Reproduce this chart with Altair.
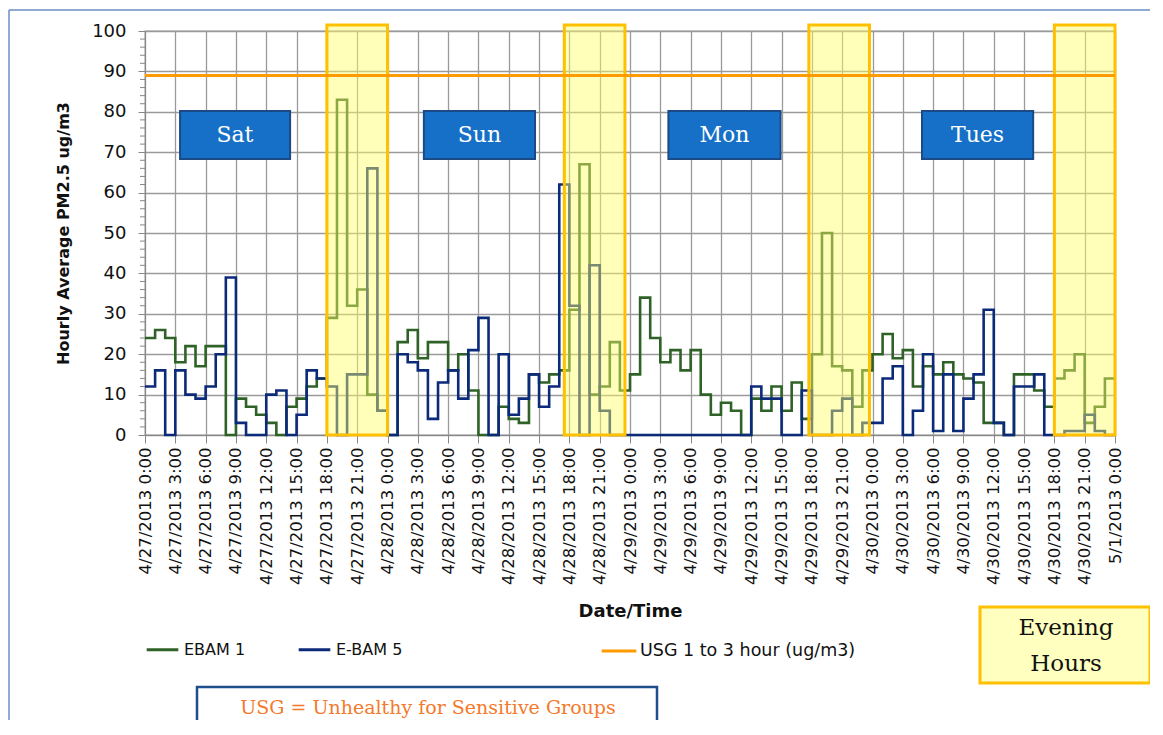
import json
import altair as alt
import pandas as pd

# ---------------- data ----------------
# hours since 4/27/2013 0:00 (hourly readings, last point = 5/1/2013 0:00)
hour_index = list(range(97))
tick_hours = list(range(0, 97, 3))
tick_labels = [f"{t.month}/{t.day}/{t.year} {t.hour}:00" for t in
               pd.date_range("2013-04-27 00:00", "2013-05-01 00:00", freq="3h")]

ebam1_apr27 = [24, 26, 24, 18, 22, 17, 22, 22, 0, 9, 7, 5, 3, 0, 7, 9, 12, 14, 29, 83, 32, 36, 10, 6]
ebam1_apr28 = [0, 23, 26, 19, 23, 23, 16, 20, 11, 0, 0, 7, 4, 3, 15, 13, 15, 16, 31, 67, 10, 12, 23, 11]
ebam1_apr29 = [15, 34, 24, 18, 21, 16, 21, 10, 5, 8, 6, 0, 9, 6, 12, 6, 13, 4, 20, 50, 17, 16, 7, 16]
ebam1_apr30 = [20, 25, 19, 21, 12, 17, 15, 18, 15, 14, 13, 3, 3, 0, 15, 15, 11, 7, 14, 16, 20, 3, 7, 14]
ebam1_may1 = [14]

ebam5_apr27 = [12, 16, 0, 16, 10, 9, 12, 20, 39, 3, 0, 0, 10, 11, 0, 5, 16, 14, 12, 0, 15, 15, 66, 6]
ebam5_apr28 = [0, 20, 18, 16, 4, 13, 16, 9, 21, 29, 0, 20, 5, 9, 15, 7, 12, 62, 32, 0, 42, 6, 0, 0]
ebam5_apr29 = [0, 0, 0, 0, 0, 0, 0, 0, 0, 0, 0, 0, 12, 9, 9, 0, 0, 11, 0, 0, 6, 9, 0, 3]
ebam5_apr30 = [3, 14, 17, 0, 6, 20, 1, 15, 1, 9, 15, 31, 3, 0, 12, 12, 15, 0, 0, 1, 1, 5, 1, 0]
ebam5_may1 = [0]

ebam1 = ebam1_apr27 + ebam1_apr28 + ebam1_apr29 + ebam1_apr30 + ebam1_may1
ebam5 = ebam5_apr27 + ebam5_apr28 + ebam5_apr29 + ebam5_apr30 + ebam5_may1

series_names = ["EBAM 1", "E-BAM 5"]
usg_name = ["USG 1 to 3 hour (ug/m3)"]
usg_level = [89]

# evening-hour highlight windows (hours since 4/27 0:00)
evening_start = [18, 41.5, 65.7, 90]
evening_end = [24, 47.5, 71.7, 96]

day_labels = ["Sat", "Sun", "Mon", "Tues"]
day_start = [3.47, 27.6, 51.8, 76.9]
day_end = [14.36, 38.6, 62.9, 87.9]
day_mid = [8.9, 33.1, 57.35, 82.4]

y_ticks = [0, 10, 20, 30, 40, 50, 60, 70, 80, 90, 100]
y_minor_ticks = [v for v in range(2, 100, 2) if v % 10]

# ---------------- tables ----------------
df = pd.DataFrame({
    "hour": hour_index * 2,
    "value": ebam1 + ebam5,
    "series": [series_names[0]] * len(hour_index) + [series_names[1]] * len(hour_index),
})
df_usg = pd.DataFrame({"usg": usg_name, "level": usg_level})
df_even = pd.DataFrame({"start": evening_start, "end": evening_end,
                        "bottom": [0] * 4, "top": [101.5] * 4})
df_days = pd.DataFrame({"label": day_labels, "start": day_start, "end": day_end,
                        "mid": day_mid, "lo": [68.3] * 4, "hi": [80.2] * 4, "c": [74.3] * 4})
df_minor = pd.DataFrame({"v": y_minor_ticks})

GREEN = "#2f6227"
NAVY = "#0b2a7a"
ORANGE = "#ff9a00"
GRID = "#9a9a9a"

x_scale = alt.Scale(domain=[0, 96], nice=False, zero=False)
y_scale = alt.Scale(domain=[0, 100], nice=False)

label_expr = json.dumps(tick_labels) + "[round(datum.value / 3)]"

x_axis = alt.Axis(
    title="Date/Time", values=tick_hours, tickCount=len(tick_hours) + 2, labelExpr=label_expr,
    labelAngle=270, labelFont="DejaVu Sans", labelFontSize=16.5, labelColor="#111",
    labelOverlap=False, labelFlush=False, labelPadding=4,
    tickSize=8, tickColor="#888", domainColor="#888",
    grid=True, gridColor=GRID, gridWidth=1.3,
    titleFont="DejaVu Sans", titleFontSize=18, titleFontWeight="bold",
    titlePadding=18, titleColor="#111",
)
y_axis = alt.Axis(
    title="Hourly Average PM2.5 ug/m3", values=y_ticks, tickCount=20,
    labelFont="DejaVu Sans", labelFontSize=18, labelColor="#111", labelPadding=12,
    tickSize=7, tickColor="#888", domainColor="#888",
    grid=True, gridColor=GRID, gridWidth=1.3,
    titleFont="DejaVu Sans", titleFontSize=16, titleFontWeight="bold",
    titlePadding=20, titleColor="#111",
)

lines = alt.Chart(df).mark_line(interpolate="step-after", strokeWidth=2.6).encode(
    x=alt.X("hour:Q", scale=x_scale, axis=x_axis),
    y=alt.Y("value:Q", scale=y_scale, axis=y_axis),
    color=alt.Color("series:N", scale=alt.Scale(domain=series_names, range=[GREEN, NAVY]),
                    legend=alt.Legend(title=None, orient="none", legendX=0, legendY=601,
                                      direction="horizontal", symbolType="stroke",
                                      symbolSize=1000, symbolStrokeWidth=3,
                                      labelFont="DejaVu Sans", labelFontSize=16,
                                      labelColor="#111", labelOffset=4, labelLimit=400,
                                      columnPadding=46, padding=0)),
)

minor = alt.Chart(df_minor).mark_rule(color="#888", strokeWidth=1).encode(
    y=alt.Y("v:Q", scale=y_scale), x=alt.value(-5), x2=alt.value(0),
)

yellow = alt.Chart(df_even).mark_rect(fill="#ffff66", fillOpacity=0.45,
                                      stroke="#ffc000", strokeWidth=3).encode(
    x=alt.X("start:Q", scale=x_scale), x2="end:Q",
    y=alt.Y("bottom:Q", scale=y_scale), y2="top:Q",
)

usg = alt.Chart(df_usg).mark_rule(strokeWidth=3).encode(
    y=alt.Y("level:Q", scale=y_scale),
    color=alt.Color("usg:N", scale=alt.Scale(domain=usg_name, range=[ORANGE]),
                    legend=alt.Legend(title=None, orient="none", legendX=455, legendY=601,
                                      direction="horizontal", symbolType="stroke",
                                      symbolSize=1200, symbolStrokeWidth=3,
                                      labelFont="DejaVu Sans", labelFontSize=17.5,
                                      labelColor="#111", labelOffset=2, labelLimit=400,
                                      padding=0)),
)

day_box = alt.Chart(df_days).mark_rect(fill="#1670c8", stroke="#1c4a86", strokeWidth=2).encode(
    x=alt.X("start:Q", scale=x_scale), x2="end:Q",
    y=alt.Y("lo:Q", scale=y_scale), y2="hi:Q",
)
day_text = alt.Chart(df_days).mark_text(font="DejaVu Serif", fontSize=22, color="white",
                                        baseline="middle", align="center").encode(
    x=alt.X("mid:Q", scale=x_scale),
    y=alt.Y("c:Q", scale=y_scale),
    text="label:N",
)

one = alt.Data(values=[{}])
evening_box = alt.Chart(one).mark_rect(fill="#ffffc0", stroke="#ffc000", strokeWidth=3).encode(
    x=alt.value(835), x2=alt.value(1005), y=alt.value(576), y2=alt.value(652))
evening_t1 = alt.Chart(one).mark_text(text="Evening", font="DejaVu Serif", fontSize=23,
                                      color="#111", align="center", baseline="middle").encode(
    x=alt.value(921), y=alt.value(597))
evening_t2 = alt.Chart(one).mark_text(text="Hours", font="DejaVu Serif", fontSize=23,
                                      color="#111", align="center", baseline="middle").encode(
    x=alt.value(921), y=alt.value(633))

usg_box = alt.Chart(one).mark_rect(fill="white", stroke="#1f4e8c", strokeWidth=2.5).encode(
    x=alt.value(52), x2=alt.value(512), y=alt.value(656), y2=alt.value(720))
usg_text = alt.Chart(one).mark_text(text="USG = Unhealthy for Sensitive Groups",
                                    font="DejaVu Serif", fontSize=19, color="#f5792a",
                                    align="center", baseline="alphabetic").encode(
    x=alt.value(283), y=alt.value(683))

frame_top = alt.Chart(one).mark_rule(color="#6a8fc4", strokeWidth=1.5).encode(
    x=alt.value(-136), x2=alt.value(1010), y=alt.value(-21))
frame_left = alt.Chart(one).mark_rule(color="#6a8fc4", strokeWidth=1.5).encode(
    x=alt.value(-136), y=alt.value(-21), y2=alt.value(720))

chart = alt.layer(
    lines, minor, yellow, usg, day_box, day_text,
    evening_box, evening_t1, evening_t2, usg_box, usg_text, frame_top, frame_left,
).resolve_scale(color="independent").properties(
    width=970, height=404,
    autosize=alt.AutoSizeParams(type="none"),
    padding={"left": 137, "top": 23, "right": 35, "bottom": 285},
    background="white",
).configure_view(stroke=GRID, strokeWidth=1.3)

chart.save("out.html", embed_options={"renderer": "svg", "actions": False})
